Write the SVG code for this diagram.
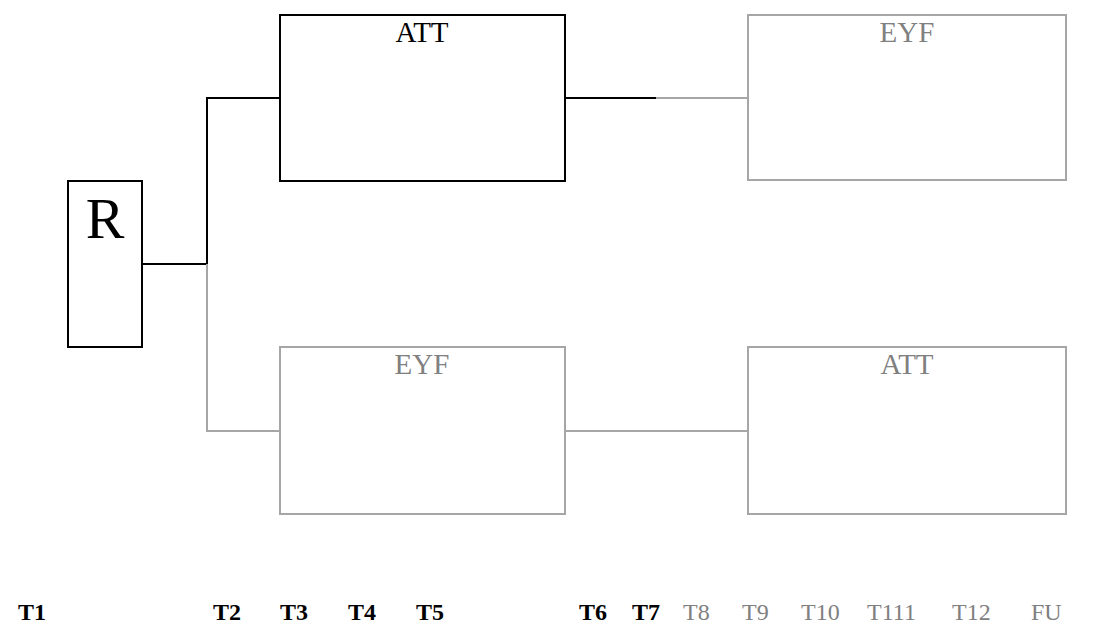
<svg xmlns="http://www.w3.org/2000/svg" width="1118" height="624" viewBox="0 0 1118 624">
<style>
.box{fill:#fff;stroke-width:2}
.dk{stroke:#000}
.lt{stroke:#a6a6a6}
.t{font-family:"Liberation Serif","Times New Roman",serif;text-anchor:middle}
.lab{font-family:"Liberation Serif","Times New Roman",serif;font-size:24px}
.b{font-weight:bold;fill:#000}
.g{fill:#808080}
.ln{fill:none;stroke-width:2}
</style>
<rect width="1118" height="624" fill="#fff"/>
<g id="connectors">
<polyline class="ln dk" points="142,264 207,264 207,98 279,98"/>
<polyline class="ln lt" points="207,264 207,431 279,431"/>
<line class="ln dk" x1="565" y1="98" x2="656" y2="98"/>
<line class="ln lt" x1="656" y1="98" x2="748" y2="98"/>
<line class="ln lt" x1="565" y1="431" x2="748" y2="431"/>
</g>
<g id="node-R">
<rect class="box dk" x="68" y="181" width="74" height="166"/>
<text class="t" x="105" y="238" font-size="58" fill="#000">R</text>
</g>
<g id="node-ATT-top">
<rect class="box dk" x="280" y="15" width="285" height="166"/>
<text class="t" x="422" y="42" font-size="29" fill="#000">ATT</text>
</g>
<g id="node-EYF-top">
<rect class="box lt" x="748" y="15" width="318" height="165"/>
<text class="t g" x="907" y="42" font-size="29">EYF</text>
</g>
<g id="node-EYF-bottom">
<rect class="box lt" x="280" y="347" width="285" height="167"/>
<text class="t g" x="422" y="374" font-size="29">EYF</text>
</g>
<g id="node-ATT-bottom">
<rect class="box lt" x="748" y="347" width="318" height="167"/>
<text class="t g" x="907" y="374" font-size="29">ATT</text>
</g>
<g id="timeline">
<text class="lab b" x="18" y="620">T1</text>
<text class="lab b" x="213" y="620">T2</text>
<text class="lab b" x="280" y="620">T3</text>
<text class="lab b" x="348" y="620">T4</text>
<text class="lab b" x="416" y="620">T5</text>
<text class="lab b" x="579" y="620">T6</text>
<text class="lab b" x="632" y="620">T7</text>
<text class="lab g" x="683" y="620">T8</text>
<text class="lab g" x="742" y="620">T9</text>
<text class="lab g" x="801" y="620">T10</text>
<text class="lab g" x="867" y="620">T111</text>
<text class="lab g" x="952" y="620">T12</text>
<text class="lab g" x="1031" y="620">FU</text>
</g>
</svg>
